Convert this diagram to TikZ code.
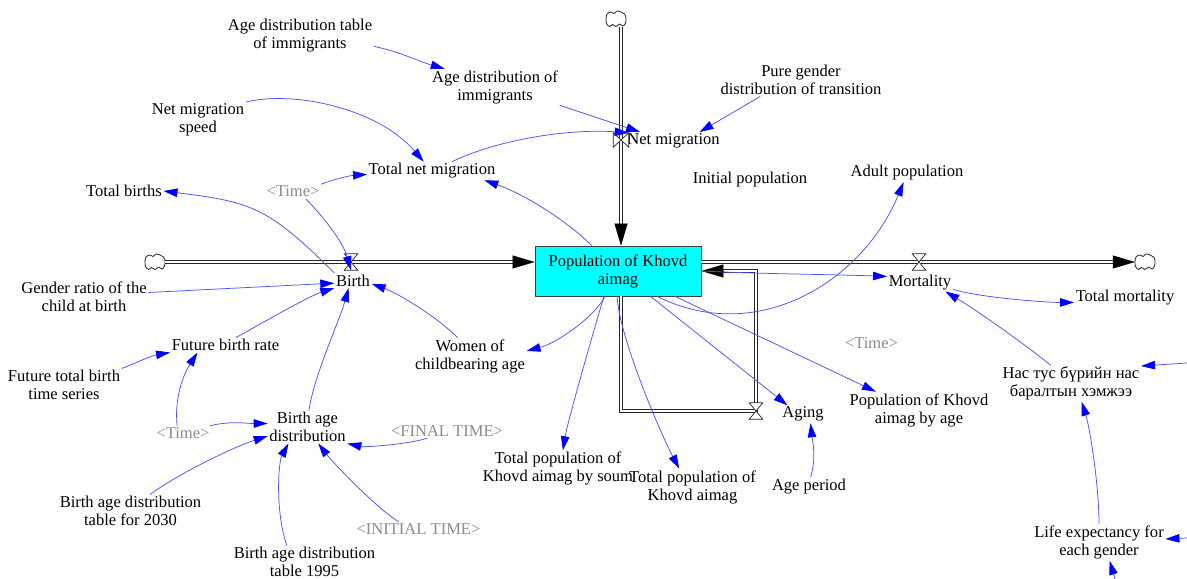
\documentclass[tikz,border=0pt]{standalone}
\usepackage{fontspec}
\setmainfont{Liberation Serif}
\usetikzlibrary{arrows.meta}
\definecolor{linkblue}{RGB}{80,80,255}
\definecolor{tipblue}{RGB}{0,0,255}
\definecolor{shadowgray}{RGB}{140,140,140}
\definecolor{stockcyan}{RGB}{0,255,255}
\begin{document}
\begin{tikzpicture}[x=1bp,y=-1bp,
  font=\fontsize{16.6}{18}\selectfont,
  var/.style={align=center, inner sep=1.5bp},
  shadowvar/.style={var, text=shadowgray},
  stockbox/.style={draw=black!75, line width=0.8bp, fill=stockcyan, minimum width=166bp, minimum height=50bp, inner sep=0, align=center},
  cloudnode/.style={minimum width=20bp, minimum height=16bp, inner sep=0},
  cloudline/.style={draw=black!85, fill=white, line width=0.8bp},
  valveh/.style={minimum width=13bp, minimum height=16bp, inner sep=0},
  valvev/.style={minimum width=15bp, minimum height=14bp, inner sep=0},
  valveshape/.style={draw=black!85, fill=white, line width=0.7bp},
  pipe/.style={draw=black!85, line width=0.85bp, double=white, double distance=2.3bp},
  pipetip/.style={draw=black, line width=0.4bp, -{Triangle[length=22bp,width=13bp]}},
  infl/.style={draw=linkblue, line width=0.75bp, -{Triangle[length=14bp,width=8.5bp,color=tipblue]}}
]
\fill[white] (0,0) rectangle (1187,579);
\useasboundingbox (0,0) rectangle (1187,579);

% stock
\node[stockbox] (stock) at (618,271) {Population of Khovd\\aimag};

% clouds (placeholders)
\node[cloudnode] (cb) at (155,262) {};
\node[cloudnode] (cm) at (1145,262) {};
\node[cloudnode] (cn) at (616,19) {};

% valves (placeholders)
\node[valveh] (bv) at (351,262) {};
\node[valveh] (mv) at (919,262) {};
\node[valvev] (nmv) at (621,140) {};
\node[valveh] (av) at (756,411) {};

% variables
\node[var] (adti) at (300,36) {Age distribution table\\of immigrants};
\node[var] (adi) at (495,87) {Age distribution of\\immigrants};
\node[var] (pg) at (801,80) {Pure gender\\distribution of transition};
\node[var] (nm) at (673.5,141) {Net migration};
\node[var] (nms) at (198,120) {Net migration\\speed};
\node[var] (tnm) at (432,171) {Total net migration};
\node[shadowvar] (time1) at (293,191.5) {\textless Time\textgreater};
\node[var] (tb) at (124,191) {Total births};
\node[var] (ip) at (750,179.5) {Initial population};
\node[var] (ap) at (907,173) {Adult population};
\node[var] (birth) at (353,280.5) {Birth};
\node[var] (gr) at (84,297) {Gender ratio of the\\child at birth};
\node[var] (mort) at (920,282.3) {Mortality};
\node[var] (tm) at (1125,298) {Total mortality};
\node[var] (fbr) at (225.5,345) {Future birth rate};
\node[var] (wca) at (470,356) {Women of\\childbearing age};
\node[shadowvar] (time3) at (871.5,343) {\textless Time\textgreater};
\node[var] (ftb) at (64,385) {Future total birth\\time series};
\node[var] (nt) at (1071,383.5) {Нас тус бүрийн нас\\баралтын хэмжээ};
\node[var] (pka) at (919,410) {Population of Khovd\\aimag by age};
\node[var] (aging) at (803,414.3) {Aging};
\node[shadowvar] (time2) at (183,433) {\textless Time\textgreater};
\node[var] (bad) at (307.5,427) {Birth age\\distribution};
\node[shadowvar] (ft) at (447,431) {\textless FINAL TIME\textgreater};
\node[var] (tps) at (558,468.5) {Total population of\\Khovd aimag by soum};
\node[var] (tpk) at (692.5,487) {Total population of\\Khovd aimag};
\node[var] (apd) at (809,486.3) {Age period};
\node[var] (t2030) at (130.5,511) {Birth age distribution\\table for 2030};
\node[shadowvar] (it) at (418.5,529) {\textless INITIAL TIME\textgreater};
\node[var] (t1995) at (304.5,562) {Birth age distribution\\table 1995};
\node[var] (le) at (1099,542.5) {Life expectancy for\\each gender};

% free ends
\coordinate (offr1) at (1187,363);
\coordinate (offr2) at (1187,538);
\coordinate (offb) at (1115,579);

% cloud outlines
\draw[cloudline, shift={(cb.center)}] plot[smooth cycle, tension=0.6] coordinates
    {(-10,0) (-9,-5) (-5,-7) (-2,-5.5) (1,-8) (5,-7) (8.5,-5) (10,-1) (9.5,4) (7,7) (3.5,5) (0,7.5) (-3.5,5.5) (-6.5,7.5) (-9.5,4.5)};
\draw[cloudline, shift={(cm.center)}] plot[smooth cycle, tension=0.6] coordinates
    {(-10,0) (-9,-5) (-5,-7) (-2,-5.5) (1,-8) (5,-7) (8.5,-5) (10,-1) (9.5,4) (7,7) (3.5,5) (0,7.5) (-3.5,5.5) (-6.5,7.5) (-9.5,4.5)};
\draw[cloudline, shift={(cn.center)}] plot[smooth cycle, tension=0.6] coordinates
    {(-10,0) (-9,-5) (-5,-7) (-2,-5.5) (1,-8) (5,-7) (8.5,-5) (10,-1) (9.5,4) (7,7) (3.5,5) (0,7.5) (-3.5,5.5) (-6.5,7.5) (-9.5,4.5)};

% birth pipe
\coordinate (bpstart) at (cb.east);
\coordinate (bpend) at (stock.west |- cb.east);
\draw[pipe, shorten >=12bp] (bpstart) -- (bpend);
\draw[pipetip] ([xshift=-22bp]bpend) -- (bpend);

% mortality pipe
\coordinate (mpstart) at (stock.east |- cm.west);
\coordinate (mpend) at (cm.west);
\draw[pipe, shorten >=12bp] (mpstart) -- (mpend);
\draw[pipetip] ([xshift=-22bp]mpend) -- (mpend);

% net migration pipe
\coordinate (npstart) at (cn.south -| nmv);
\coordinate (npend) at (stock.north -| nmv);
\draw[pipe, shorten >=12bp] (npstart) -- (npend);
\draw[pipetip] ([yshift=22bp]npend) -- (npend);

% aging pipe
\coordinate (apstart) at (stock.south -| nmv);
\draw[pipe, shorten >=12bp] (apstart) |- (av.center) |- (stock.east);
\draw[pipetip] ([xshift=22bp]stock.east) -- (stock.east);

% valves
\filldraw[valveshape] (bv.north west) -- (bv.north east) -- (bv.south west) -- (bv.south east) -- cycle;
\filldraw[valveshape] (mv.north west) -- (mv.north east) -- (mv.south west) -- (mv.south east) -- cycle;
\filldraw[valveshape] (av.north west) -- (av.north east) -- (av.south west) -- (av.south east) -- cycle;
\filldraw[valveshape] (nmv.north west) -- (nmv.south west) -- (nmv.north east) -- (nmv.south east) -- cycle;

% influences
\draw[infl] (adti.-8) .. controls +(25,5) and +(-25,-7) .. (adi.160);
\draw[infl] (adi.south east) -- (nm.165);
\draw[infl] (pg.-158) -- (nm.19);
\draw[infl] (nms.north east) .. controls +(48,-12) and +(-45,-53) .. (tnm.132);
\draw[infl] (tnm.25) .. controls +(50,-24) and +(-55,-4) .. (nmv.north east);
\draw[infl] (time1.north east) .. controls +(15,-6) and +(-15,1) .. (tnm.-177);
\draw[infl] (stock.136) .. controls +(-25,-25) and +(40,14) .. (tnm.-10);
\draw[infl] (birth.north west) .. controls +(-67,-67) and +(87,11) .. (tb.east);
\draw[infl] (time1.-30) .. controls +(18,18) and +(-8,-28) .. (bv.south);
\draw[infl] (gr.4) -- (birth.-172);
\draw[infl] (fbr.35) .. controls +(25,-14) and +(-25,8) .. (birth.south west);
\draw[infl] (bad.85) .. controls +(5,-35) and +(-10,35) .. (birth.-120);
\draw[infl] (wca.124) .. controls +(-22,-22) and +(25,9) .. (birth.-10);
\draw[infl] (stock.-117) .. controls +(-12,22) and +(30,-8) .. (wca.5);
\draw[infl] (ftb.north east) .. controls +(20,-8) and +(-18,3) .. (fbr.south west);
\draw[infl] (time2.129) .. controls +(-3,-28) and +(-14,22) .. (fbr.-165);
\draw[infl] (time2.15) .. controls +(20,-5) and +(-20,0) .. (bad.175);
\draw[infl] (t2030.40) .. controls +(25,-19) and +(-35,11) .. (bad.-167);
\draw[infl] (t1995.137) .. controls +(-12,-35) and +(-10,18) .. (bad.-139);
\draw[infl] (it.160) .. controls +(-22,-13) and +(13,17) .. (bad.-57);
\draw[infl] (ft.-160) .. controls +(-18,6) and +(18,4) .. (bad.south east);
\draw[infl] (stock.-119) .. controls +(-9,30) and +(5,-30) .. (tps.75);
\draw[infl] (stock.-92) .. controls +(2,40) and +(-20,-38) .. (tpk.126);
\draw[infl] (stock.-38) -- (aging.150);
\draw[infl] (stock.-24) -- (pka.157);
\draw[infl] (stock.-33) .. controls +(99,49.5) and +(-42,101) .. (ap.-110);
\draw[infl] (stock.east) .. controls +(60,3) and +(-50,-2) .. (mort.170);
\draw[infl] (mort.-12) .. controls +(25,8) and +(-30,0) .. (tm.-175);
\draw[infl] (nt.138) .. controls +(-30,-24) and +(30,18) .. (mort.-20);
\draw[infl] (apd.80) .. controls +(6,-20) and +(2,18) .. (aging.-50);
\draw[infl] (le.north) .. controls +(0,-40) and +(8,25) .. (nt.-60);
\draw[infl] (offr1) -- (nt.14);
\draw[infl] (offr2) -- (le.3.5);
\draw[infl] (offb) -- (le.-60);
\end{tikzpicture}
\end{document}
